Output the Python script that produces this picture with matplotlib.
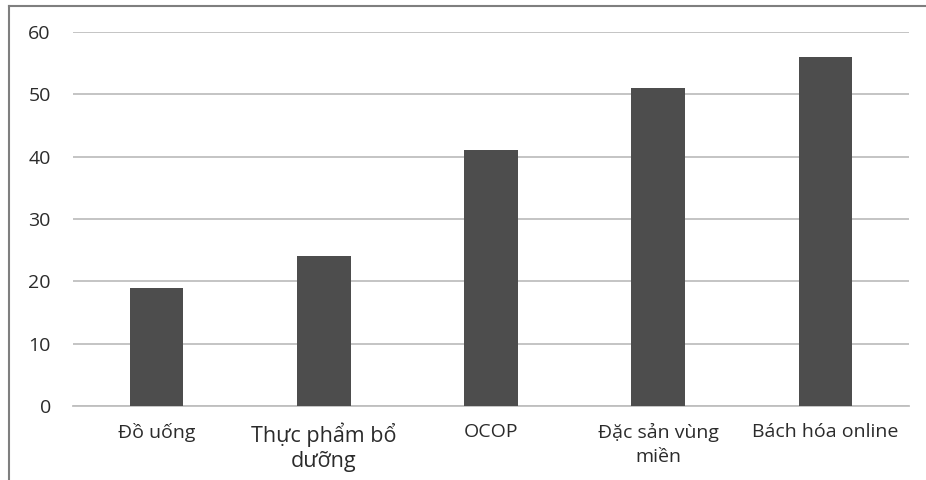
import matplotlib.pyplot as plt
from matplotlib.lines import Line2D

categories = ["Đồ uống", "Thực phẩm bổ\ndưỡng", "OCOP", "Đặc sản vùng\nmiền", "Bách hóa online"]
values = [19, 24, 41, 51, 56]
yticks = [0, 10, 20, 30, 40, 50, 60]

plt.rcParams['font.family'] = ['Open Sans', 'DejaVu Sans']

fig = plt.figure(figsize=(9.26, 4.8), dpi=100)
ax = fig.add_axes([73 / 926, 1 - 406 / 480, 836 / 926, 374 / 480])

x = range(len(categories))
ax.bar(x, values, width=0.32, color="#4d4d4d", zorder=3)

ax.set_xlim(-0.5, len(categories) - 0.5)
ax.set_ylim(0, 60)
ax.set_yticks(yticks)
ax.set_xticks(list(x))
ax.set_xticklabels(categories, fontsize=14, color="#2b2b2b", linespacing=1.45)
# the second label is set a bit larger in the original
ax.get_xticklabels()[1].set_fontsize(15.5)
ax.get_xticklabels()[1].set_linespacing(1.25)
ax.tick_params(axis="y", labelsize=14, labelcolor="#2b2b2b", length=0, pad=16)
ax.tick_params(axis="x", length=0, pad=12)
ax.yaxis.grid(True, color="#bfbfbf", linewidth=1.3, zorder=0)
ax.set_axisbelow(True)
for side in ["top", "right", "left"]:
    ax.spines[side].set_visible(False)
ax.spines["bottom"].set_color("#bfbfbf")
ax.spines["bottom"].set_linewidth(1.3)

# outer frame (left and top edge only)
fig.add_artist(Line2D([8.5 / 926, 8.5 / 926], [0, 1 - 6 / 480], transform=fig.transFigure, color="#7f7f7f", linewidth=1.5))
fig.add_artist(Line2D([8.5 / 926, 1], [1 - 6 / 480, 1 - 6 / 480], transform=fig.transFigure, color="#7f7f7f", linewidth=1.5))

fig.savefig("out.png", dpi=100)
